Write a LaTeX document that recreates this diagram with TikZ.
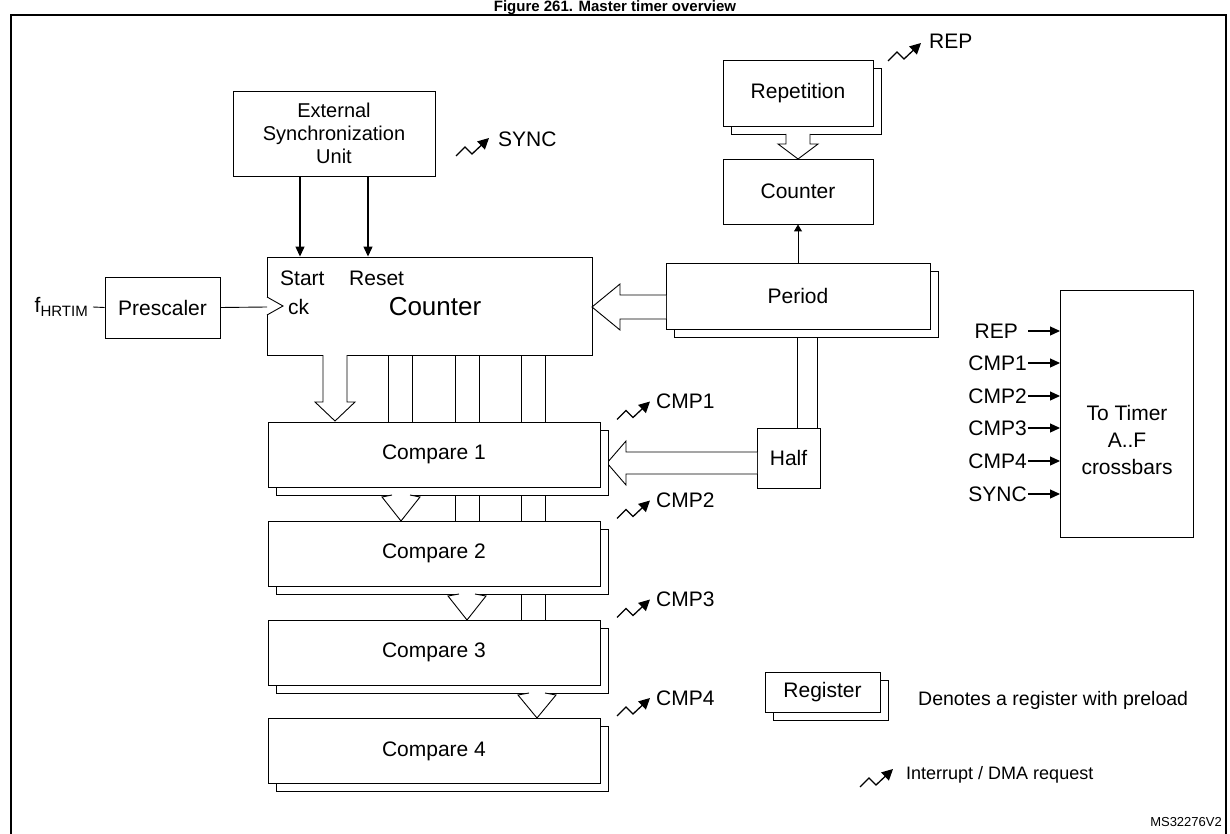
\documentclass[tikz,border=0pt]{standalone}
\usepackage{fontspec}
\setmainfont{Liberation Sans}
\usetikzlibrary{arrows.meta}
\begin{document}
\begin{tikzpicture}[x=1pt,y=-1pt,
  lbl/.style={font=\fontsize{21}{25}\selectfont, inner sep=0pt},
  box/.style={draw, line width=0.9pt, fill=white, inner sep=0pt, font=\fontsize{21}{25}\selectfont, align=center},
  wide/.style={draw, line width=0.9pt, fill=white},
  thin/.style={line width=0.9pt},
  arr/.style={line width=1.2pt, -{Triangle[length=10pt,width=9pt]}},
  irq/.pic={\draw[line width=1.3pt, -{Triangle[length=11pt,width=11pt]}] (0,5)--(9,-4)--(16,3)--(33,-13);}]
\useasboundingbox (0,0) rectangle (1230,834);
\node[font=\bfseries\fontsize{15}{18}\selectfont, anchor=base] (title) at (615,11.5) {Figure 261. Master timer overview};
\draw[line width=2.2pt] (11,834) -- (11,15) -- (1226,15) -- (1226,834);

% vertical bus pairs (behind boxes)
\foreach \xa in {388,412} \draw[thin] (\xa,355) -- (\xa,422);
\foreach \xa in {455,479} \draw[thin] (\xa,355) -- (\xa,521);
\foreach \xa in {521,545} \draw[thin] (\xa,355) -- (\xa,620);
\draw[thin] (797,337) -- (797,428);
\draw[thin] (817,337) -- (817,428);

% External sync
\node[box, minimum width=202pt, minimum height=85pt, font=\fontsize{20}{23}\selectfont] (ext) at (334,133.5) {External\\Synchronization\\Unit};
\pic at (456,151) {irq};
\node[lbl, anchor=west] (sync) at (498,139) {SYNC};

% main counter
\node[box, minimum width=325pt, minimum height=98pt] (cnt) at (429.5,306) {};
\node[lbl, anchor=base west] (start) at (280,285) {Start};
\node[lbl, anchor=base west] (reset) at (349,285) {Reset};
\node[lbl, anchor=base west] (ck) at (288,314) {ck};
\node[font=\fontsize{26}{30}\selectfont, inner sep=0pt] (cntl) at (435,307) {Counter};
\draw[thin, fill=white] (267,297) -- (283,306) -- (267,315);
\draw[arr] (ext.south -| 300,0) -- (cnt.north -| 300,0);
\draw[arr] (ext.south -| 368,0) -- (cnt.north -| 368,0);

% prescaler
\node[box, minimum width=115pt, minimum height=61pt] (pre) at (162.5,307.5) {Prescaler};
\node[lbl, anchor=east] (f) at (88,307) {f\raisebox{-0.3ex}{\fontsize{15}{15}\selectfont HRTIM}};
\draw[thin] (93,307) -- (pre.west);
\draw[thin] (pre.east) -- (267,307);

% Period register
\node[box, minimum width=264pt, minimum height=66pt] (perb) at (806,304) {};
\node[box, minimum width=264pt, minimum height=66pt] (per) at (798,296) {Period};
\draw[wide] (666,295) -- (620,295) -- (620,284) -- (592,307) -- (620,330) -- (620,319) -- (666,319);

% Repetition
\node[box, minimum width=150pt, minimum height=66pt] (repb) at (806,101) {};
\node[box, minimum width=150pt, minimum height=66pt] (rep) at (798,93) {Repetition};
\pic at (888,56) {irq};
\node[lbl, anchor=west] (repl) at (929,41) {REP};
\node[box, minimum width=150pt, minimum height=65pt] (cnt2) at (798,191.5) {Counter};
\draw[wide] (786,134) -- (786,144) -- (778,144) -- (798,159) -- (818,144) -- (810,144) -- (810,134);
\draw[line width=0.9pt, -{Triangle[length=7pt,width=8pt]}] (per.north -| cnt2) -- (cnt2.south);

% Half
\node[box, minimum width=63pt, minimum height=60pt] (half) at (788.5,458) {Half};
\draw[wide] (757,452) -- (626,452) -- (626,441) -- (607,463) -- (626,485) -- (626,474) -- (757,474);

% Compare registers
\foreach \i/\y in {1/454.5, 2/553.5, 3/652.5, 4/751}{
  \node[box, minimum width=332pt, minimum height=65pt] (cmpb\i) at (442,\y+8) {};
  \node[box, minimum width=332pt, minimum height=65pt] (cmp\i) at (434,\y) {Compare \i};
  \pic at (617,\y-40) {irq};
  \node[lbl, anchor=west] (cmpl\i) at (656,\y-53) {CMP\i};
}
% wide arrows down
\draw[wide] (323,355) -- (323,402) -- (315,402) -- (335,421) -- (355,402) -- (347,402) -- (347,355);
\draw[wide] (392,495) -- (382,497) -- (401,521) -- (420,497) -- (410,495);
\draw[wide] (459,594) -- (448,596) -- (467,620) -- (486,596) -- (475,594);
\draw[wide] (529,693) -- (518,695) -- (537,718) -- (556,695) -- (545,693);

% crossbar box
\node[box, minimum width=133pt, minimum height=247pt] (xbar) at (1126.5,413.5) {};
\node[lbl, align=center, font=\fontsize{21}{27}\selectfont] (xbt) at (1127,440) {To Timer\\A..F\\crossbars};
\foreach \t/\y/\xe in {REP/331/1018, CMP1/363/1027, CMP2/396/1027, CMP3/428/1027, CMP4/461/1027, SYNC/494/1027}{
  \node[lbl, anchor=east] (in\t) at (\xe,\y) {\t};
  \draw[arr] (1028,\y) -- (1060,\y);
}

% legend
\node[box, minimum width=115pt, minimum height=40pt] (legb) at (830.5,700) {};
\node[box, minimum width=115pt, minimum height=40pt] (leg) at (822.5,692) {Register};
\node[lbl, anchor=west, font=\fontsize{19.5}{22}\selectfont] (legt) at (918,700) {Denotes a register with preload};
\pic at (860,782) {irq};
\node[lbl, anchor=west, font=\fontsize{18}{21}\selectfont] (irqt) at (906,775) {Interrupt / DMA request};
\node[anchor=east, inner sep=0pt, font=\fontsize{13}{15}\selectfont] (ms) at (1222,822) {MS32276V2};
\end{tikzpicture}
\end{document}
